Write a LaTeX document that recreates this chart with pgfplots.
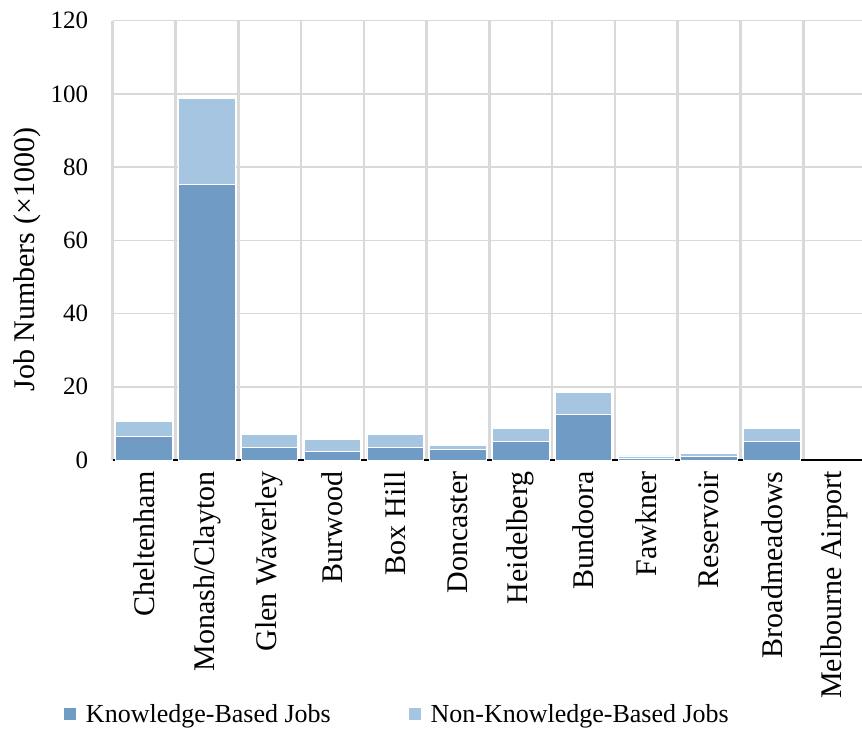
\documentclass[border=0pt]{standalone}
\usepackage{fontspec}
\setmainfont{Liberation Serif}
\usepackage{pgfplots}
\pgfplotsset{compat=1.18}
\definecolor{kbj}{RGB}{112,155,196}
\definecolor{nkbj}{RGB}{165,197,224}
\definecolor{gridc}{RGB}{217,217,217}
\pgfplotsset{
  layers/mylayers/.define layer set={axis background,axis grid,axis ticks,pre main,main,axis lines,axis tick labels,axis descriptions,axis foreground}{},
}
\begin{document}
\begin{tikzpicture}[font=\fontsize{25}{30}\selectfont]
\begin{axis}[
  name=ax,
  set layers=mylayers,
  scale only axis,
  width=753.3pt, height=439.3pt,
  ybar stacked,
  bar width=0.9,
  xmin=-0.5, xmax=11.5,
  ymin=0, ymax=120,
  ytick={0,20,...,120},
  xtick={0,...,11},
  xticklabels={Cheltenham,Monash/Clayton,Glen Waverley,Burwood,Box Hill,Doncaster,Heidelberg,Bundoora,Fawkner,Reservoir,Broadmeadows,Melbourne Airport},
  minor xtick={-0.5,0.5,...,11.5},
  xminorgrids=true, ymajorgrids=true,
  minor x grid style={gridc, line width=2.6pt},
  major y grid style={gridc, line width=1.6pt},
  major tick length=0pt, minor tick length=0pt,
  tick style={draw=none},
  axis x line*=bottom,
  axis y line*=left,
  x axis line style={black, line width=2.6pt, -},
  y axis line style={draw=none},
  /pgf/number format/assume math mode=true,
  xticklabel style={yshift=-8pt, rotate=90, anchor=east, font=\fontsize{30}{34}\selectfont},
  yticklabel style={xshift=-21pt},
  ylabel={Job Numbers (×1000)},
  ylabel style={at={(rel axis cs:-0.113,0.456)}, anchor=center, rotate=0, font=\fontsize{30}{34}\selectfont},
  legend columns=2,
  legend style={draw=none, fill=none, inner sep=0pt, at={(rel axis cs:-0.066,-0.578)}, anchor=west,
    font=\fontsize{26}{31}\selectfont,
    /tikz/every even column/.append style={column sep=75pt}},
  legend image code/.code={\fill[#1] (0pt,-6pt) rectangle (13pt,7pt); \path (20pt,0pt);},
]
\addplot+[fill=kbj, draw=white, line width=0.8pt] coordinates {
 (0,6.4) (1,75.2) (2,3.4) (3,2.4) (4,3.4) (5,2.8) (6,5.0) (7,12.4) (8,0.5) (9,0.9) (10,5.0) (11,0)};
\addlegendentry{Knowledge-Based Jobs}
\addplot+[fill=nkbj, draw=white, line width=0.8pt] coordinates {
 (0,4.1) (1,23.5) (2,3.6) (3,3.1) (4,3.6) (5,1.2) (6,3.6) (7,6.1) (8,0.6) (9,1.0) (10,3.6) (11,0)};
\addlegendentry{Non-Knowledge-Based Jobs}
\end{axis}
\pgfresetboundingbox
\useasboundingbox ([shift={(-112.7pt,-269pt)}]ax.south west) rectangle ([shift={(-4pt,20.7pt)}]ax.north east);
\end{tikzpicture}
\end{document}
